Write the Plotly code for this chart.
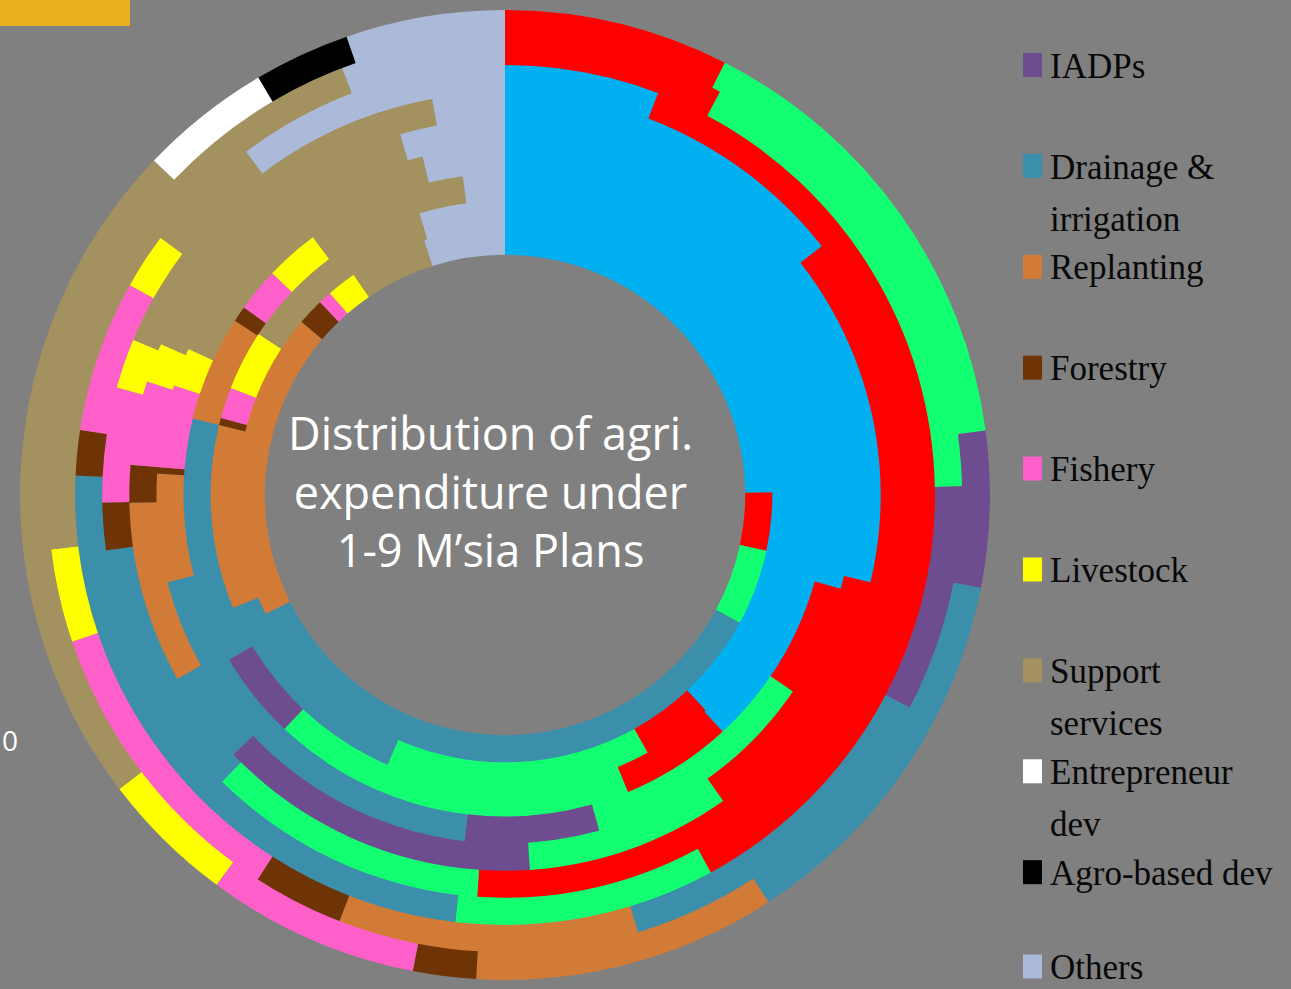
import plotly.graph_objects as go

# ---------------- data (share of agricultural expenditure, %) ----------------
plans = ["1MP", "2MP", "3MP", "4MP", "5MP", "6MP", "7MP", "8MP", "9MP"]

categories = [
    "Land development", "Agricultural development", "Commodity development",
    "IADPs", "Drainage & irrigation", "Replanting", "Forestry", "Fishery",
    "Livestock", "Support services", "Entrepreneur dev", "Agro-based dev", "Others",
]

land_development = [24.9, 38.1, 38.2, 29.3, 28.7, 14.4, 5.8, 0.0, 0.0]
agri_development = [3.5, 3.9, 5.6, 5.2, 11.4, 36.7, 36.3, 7.8, 7.5]
commodity_dev    = [4.6, 14.6, 18.3, 11.1, 8.8, 11.3, 9.8, 16.9, 15.4]
iadps            = [0.0, 0.0, 4.4, 6.2, 13.9, 0.0, 0.0, 8.0, 5.2]
drainage_irrig   = [34.8, 12.2, 12.4, 19.1, 4.0, 10.4, 23.9, 12.6, 12.8]
replanting       = [18.6, 10.1, 5.3, 5.0, 7.8, 0.0, 0.0, 10.6, 10.1]
forestry         = [1.6, 0.4, 0.8, 0.3, 1.6, 1.9, 1.7, 3.2, 2.1]
fishery          = [0.8, 1.7, 2.2, 3.8, 3.6, 4.6, 5.7, 10.7, 7.1]
livestock        = [1.8, 3.3, 2.7, 1.8, 1.7, 2.0, 2.1, 3.3, 4.5]
support_services = [4.7, 11.1, 8.1, 14.3, 13.9, 15.8, 4.5, 21.1, 22.5]
entrepreneur_dev = [0.0, 0.0, 0.0, 0.0, 0.0, 0.0, 0.0, 0.0, 4.4]
agro_based_dev   = [0.0, 0.0, 0.0, 0.0, 0.0, 0.0, 0.0, 0.0, 3.2]
others           = [4.9, 4.7, 2.1, 3.8, 4.5, 2.9, 10.3, 5.8, 5.3]

series = [land_development, agri_development, commodity_dev, iadps, drainage_irrig,
          replanting, forestry, fishery, livestock, support_services,
          entrepreneur_dev, agro_based_dev, others]

colors = ["#00B0F0", "#FF0000", "#12FF72", "#6E4C90", "#3C8FAA", "#D27B37",
          "#6E3405", "#FF5FC8", "#FFFF00", "#A39260", "#FFFFFF", "#000000", "#AABAD8"]

# legend text (first three categories fall above the visible area)
legend_first = 3
legend_lines = [["IADPs"], ["Drainage &", "irrigation"], ["Replanting"], ["Forestry"],
                ["Fishery"], ["Livestock"], ["Support", "services"],
                ["Entrepreneur", "dev"], ["Agro-based dev"], ["Others"]]

title_text = "Distribution of agri.<br>expenditure under<br>1-9 M\u2019sia Plans"

# ---------------- layout constants ----------------
W, H = 1291, 989
CX, CY = 505, 495          # centre of rings (px from top-left)
R_IN, RING_W = 241.0, 27.1
BG = "#808080"


def px_x(x):
    return x / W


def px_y(y):
    return 1 - y / H


fig = go.Figure()

for k, plan in enumerate(plans):
    r_in = R_IN + RING_W * k
    r_out = R_IN + RING_W * (k + 1)
    fig.add_trace(go.Pie(
        name=plan,
        labels=categories,
        values=[s[k] for s in series],
        marker=dict(colors=colors, line=dict(width=0)),
        sort=False,
        direction="clockwise",
        rotation=0,
        hole=max(r_in - 0.8, 0) / r_out,
        domain=dict(x=[(CX - r_out) / W, (CX + r_out) / W],
                    y=[(H - CY - r_out) / H, (H - CY + r_out) / H]),
        textinfo="none",
        showlegend=False,
        hovertemplate=plan + "<br>%{label}: %{value}%<extra></extra>",
    ))

annotations = []
shapes = []

# centre title
annotations.append(dict(
    x=px_x(490), y=px_y(491), xref="paper", yref="paper",
    text=title_text, showarrow=False, xanchor="center", yanchor="middle",
    align="center", font=dict(family="Open Sans", size=45, color="#FFFFFF"),
))

# manual legend
FS = 35
for i, lines in enumerate(legend_lines):
    base = min(78 + 100.9 * i, H - 9.5)
    cidx = legend_first + i
    shapes.append(dict(type="rect", xref="paper", yref="paper",
                       x0=px_x(1023), x1=px_x(1042),
                       y0=px_y(base - 1), y1=px_y(base - 25),
                       fillcolor=colors[cidx], line=dict(width=0)))
    for j, line in enumerate(lines):
        b = base + 52 * j
        annotations.append(dict(
            x=px_x(1048), y=px_y(b - 0.34 * FS), xref="paper", yref="paper",
            text=line, showarrow=False, xanchor="left", yanchor="middle",
            font=dict(family="Liberation Serif", size=FS, color="#080808"),
        ))

# yellow tab at top-left
shapes.append(dict(type="rect", xref="paper", yref="paper",
                   x0=0, x1=px_x(130), y0=px_y(26), y1=1,
                   fillcolor="#E8B01A", line=dict(width=0)))

# small "0" at the left edge
annotations.append(dict(
    x=0, y=px_y(740), xref="paper", yref="paper", text="0",
    showarrow=False, xanchor="left", yanchor="middle",
    font=dict(family="Open Sans", size=28, color="#FFFFFF"),
))

fig.update_layout(
    width=W, height=H,
    margin=dict(l=0, r=0, t=0, b=0),
    paper_bgcolor=BG, plot_bgcolor=BG,
    showlegend=False,
    annotations=annotations,
    shapes=shapes,
)

fig.write_html(
    "out.html",
    config={"displayModeBar": False},
    post_script="document.body.style.margin='0';document.body.style.padding='0';"
                "document.body.style.overflow='hidden';document.body.style.background='#808080';",
)
